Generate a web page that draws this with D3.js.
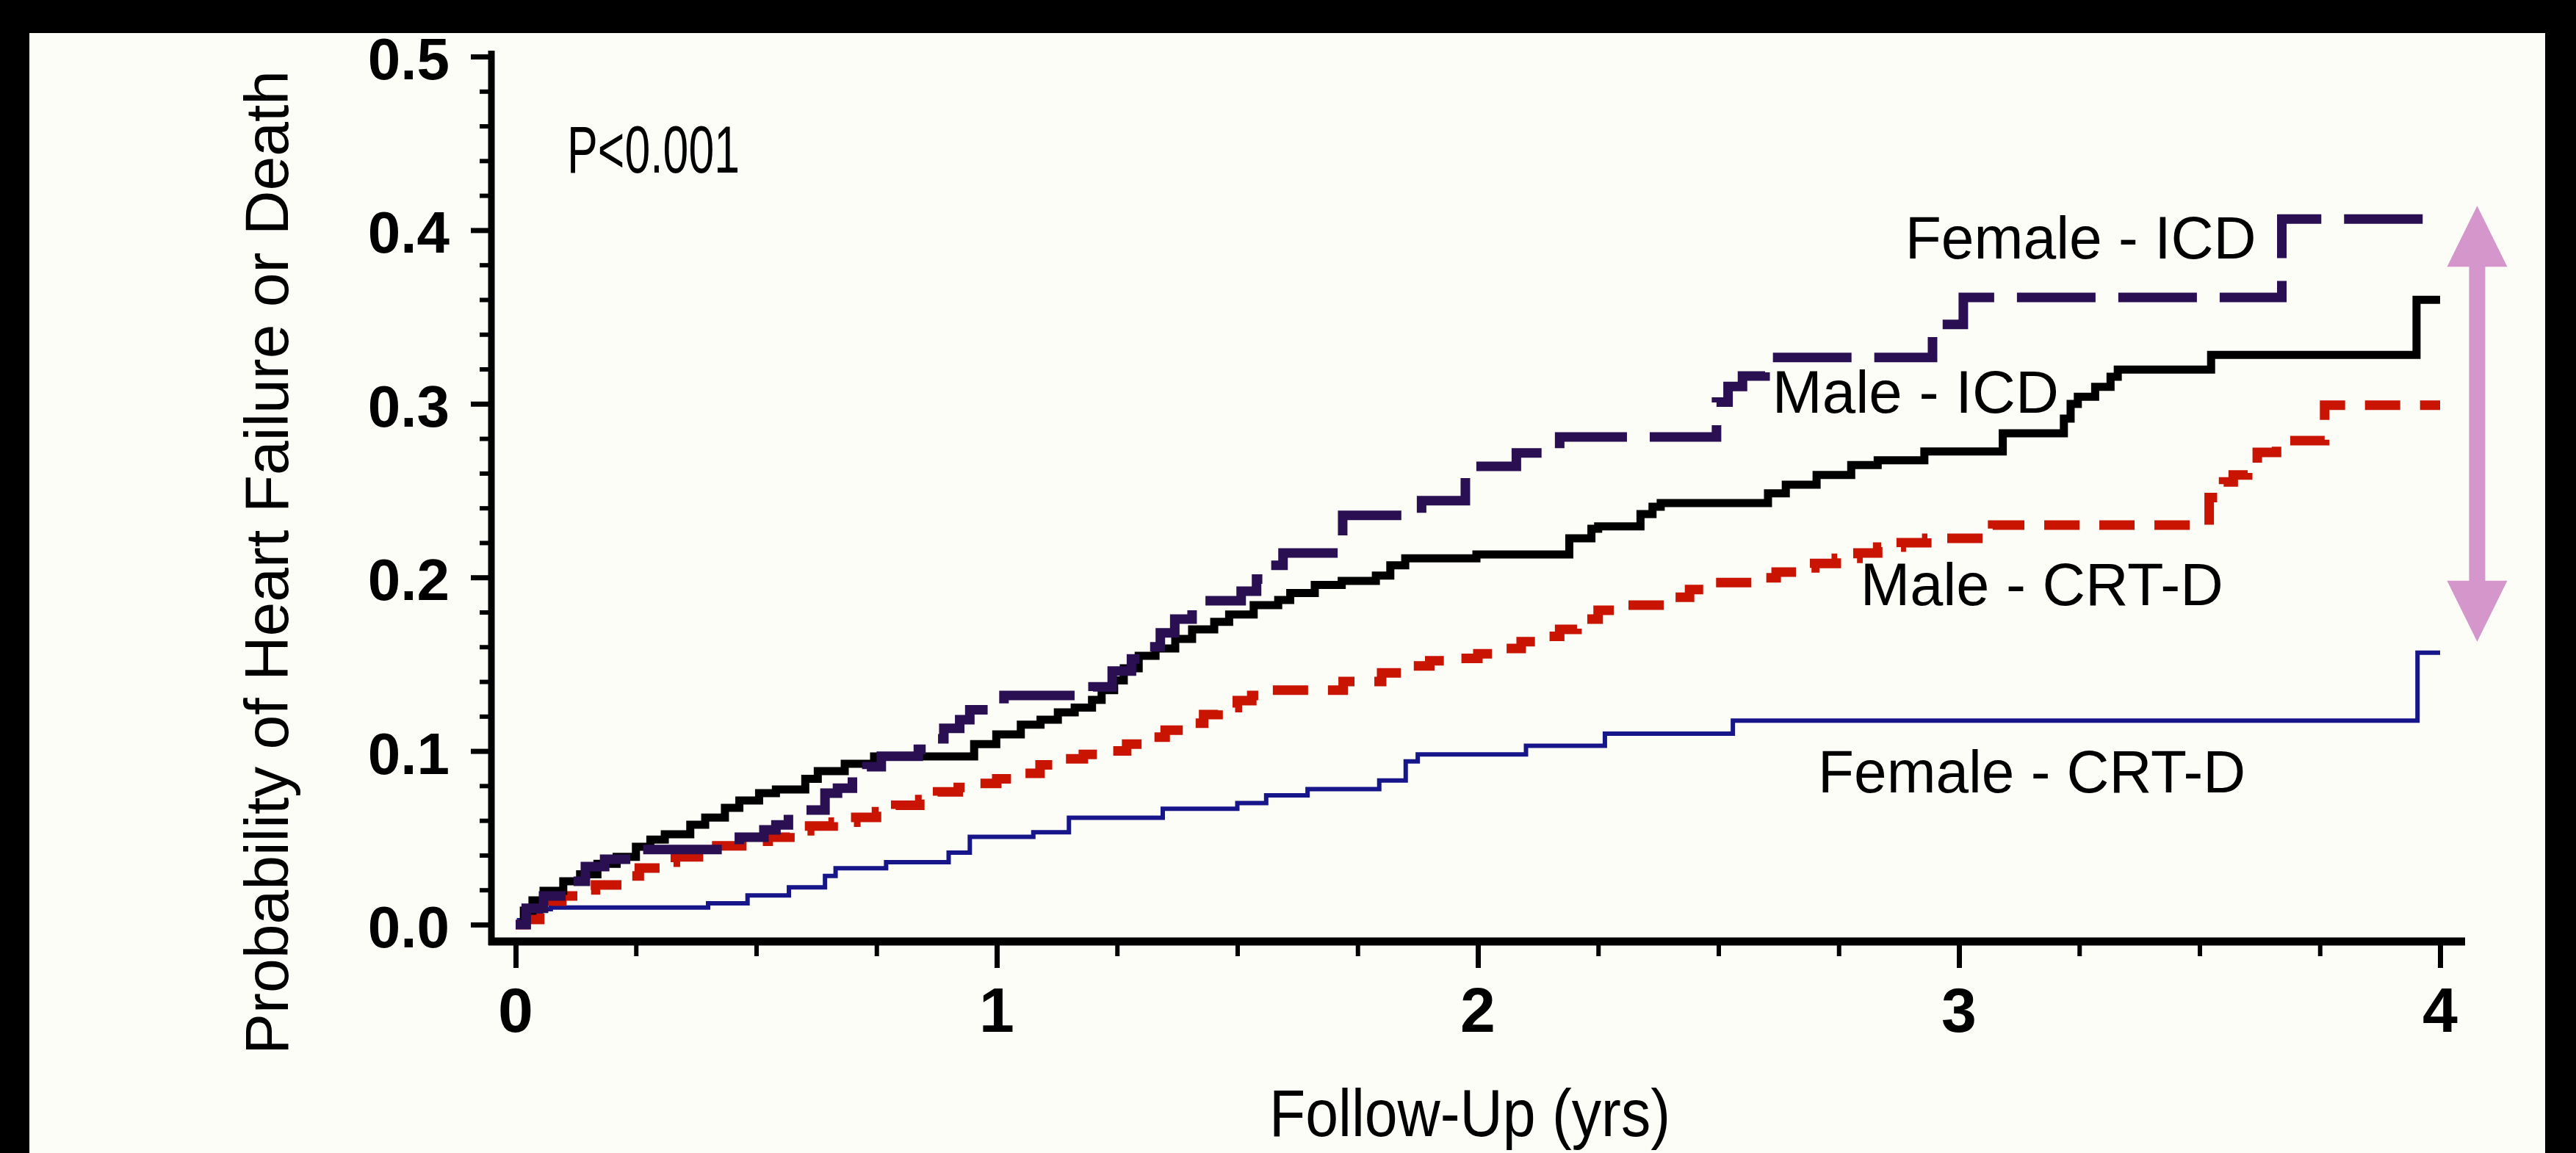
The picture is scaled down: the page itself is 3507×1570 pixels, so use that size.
<!DOCTYPE html>
<html>
<head>
<meta charset="utf-8">
<script src="https://cdn.jsdelivr.net/npm/d3@7"></script>
<style>
  html, body { margin: 0; padding: 0; background: #000; }
  svg { display: block; }
  text { font-family: "Liberation Sans", Arial, Helvetica, sans-serif; fill: #000; }
</style>
</head>
<body>
<svg id="chart" width="3507" height="1570"></svg>
<script>
// Axis ticks and labels
const yearTicks = [0, 1, 2, 3, 4];
const yearTickLabels = ["0", "1", "2", "3", "4"];
const probTicks = [0, 0.1, 0.2, 0.3, 0.4, 0.5];
const probTickLabels = ["0.0", "0.1", "0.2", "0.3", "0.4", "0.5"];

// Kaplan-Meier style cumulative event curves: [years, probability] at each step
const femaleICD = [
  [0, 0], [0.022, 0.0094], [0.058, 0.0165], [0.109, 0.025], [0.145, 0.0334], [0.185, 0.0376],
  [0.241, 0.0433], [0.465, 0.0503], [0.516, 0.0546], [0.541, 0.0574], [0.567, 0.066],
  [0.643, 0.0757], [0.669, 0.0786], [0.70, 0.0856], [0.73, 0.091], [0.76, 0.097],
  [0.837, 0.101], [0.86, 0.107], [0.89, 0.113], [0.923, 0.118], [0.944, 0.1237],
  [1.015, 0.132], [1.20, 0.137], [1.24, 0.146], [1.28, 0.153], [1.31, 0.160], [1.34, 0.168],
  [1.37, 0.176], [1.406, 0.1865], [1.508, 0.192], [1.54, 0.199], [1.57, 0.207], [1.595, 0.214],
  [1.719, 0.2357], [1.883, 0.2442], [1.974, 0.264], [2.08, 0.2717], [2.17, 0.2809],
  [2.496, 0.301], [2.52, 0.310], [2.55, 0.316], [2.597, 0.3267], [2.945, 0.3457],
  [3.009, 0.3613], [3.671, 0.4064], [4.0, 0.4064]
];
const maleICD = [
  [0, 0], [0.017, 0.008], [0.035, 0.014], [0.058, 0.0195], [0.099, 0.025], [0.134, 0.029],
  [0.17, 0.035], [0.21, 0.039], [0.25, 0.0448], [0.28, 0.049], [0.31, 0.052], [0.363, 0.0575],
  [0.394, 0.0617], [0.435, 0.0673], [0.465, 0.0715], [0.506, 0.0757], [0.541, 0.0778],
  [0.602, 0.084], [0.628, 0.0884], [0.684, 0.0926], [0.745, 0.0969], [0.953, 0.104],
  [0.999, 0.1096], [1.05, 0.1152], [1.091, 0.118], [1.127, 0.1222], [1.162, 0.125],
  [1.198, 0.1294], [1.218, 0.135], [1.244, 0.1406], [1.264, 0.1476], [1.295, 0.1548],
  [1.33, 0.159], [1.371, 0.1645], [1.406, 0.170], [1.452, 0.1744], [1.483, 0.1786],
  [1.534, 0.184], [1.585, 0.187], [1.61, 0.191], [1.661, 0.1956], [1.717, 0.198],
  [1.788, 0.201], [1.818, 0.207], [1.849, 0.211], [1.997, 0.2132], [2.19, 0.2225],
  [2.236, 0.228], [2.25, 0.2294], [2.338, 0.2365], [2.363, 0.2407], [2.38, 0.2428],
  [2.603, 0.2484], [2.64, 0.2534], [2.704, 0.259], [2.776, 0.2647], [2.831, 0.2675],
  [2.928, 0.2725], [3.091, 0.283], [3.218, 0.2915], [3.232, 0.2999], [3.247, 0.304],
  [3.283, 0.3098], [3.315, 0.3156], [3.33, 0.3197], [3.524, 0.3281], [3.951, 0.3599],
  [4.0, 0.3599]
];
const maleCRTD = [
  [0, 0], [0.02, 0.003], [0.05, 0.009], [0.075, 0.0135], [0.096, 0.0165], [0.13, 0.020],
  [0.166, 0.0228], [0.21, 0.028], [0.257, 0.0326], [0.30, 0.036], [0.332, 0.039],
  [0.38, 0.042], [0.418, 0.0454], [0.47, 0.048], [0.525, 0.0503], [0.57, 0.054],
  [0.611, 0.0568], [0.66, 0.059], [0.707, 0.0618], [0.75, 0.065], [0.79, 0.0687],
  [0.84, 0.072], [0.877, 0.0765], [0.92, 0.079], [0.959, 0.0813], [1.00, 0.084],
  [1.04, 0.0871], [1.09, 0.092], [1.127, 0.0955], [1.18, 0.098], [1.223, 0.100],
  [1.27, 0.104], [1.31, 0.108], [1.35, 0.112], [1.391, 0.116], [1.43, 0.121], [1.46, 0.125],
  [1.50, 0.129], [1.53, 0.132], [1.564, 0.135], [1.72, 0.140], [1.80, 0.145], [1.844, 0.149],
  [1.90, 0.152], [1.946, 0.1533], [2.00, 0.156], [2.043, 0.159], [2.09, 0.163], [2.129, 0.166],
  [2.17, 0.170], [2.206, 0.176], [2.25, 0.181], [2.297, 0.184], [2.399, 0.1886], [2.44, 0.193],
  [2.48, 0.197], [2.572, 0.1998], [2.62, 0.203], [2.664, 0.2055], [2.70, 0.208], [2.745, 0.211],
  [2.79, 0.214], [2.831, 0.2174], [2.88, 0.220], [2.933, 0.2225], [3.07, 0.2301], [3.52, 0.246],
  [3.55, 0.255], [3.57, 0.259], [3.60, 0.266], [3.62, 0.272], [3.66, 0.2788], [3.76, 0.2992],
  [4.0, 0.2992]
];
const femaleCRTD = [
  [0, 0], [0.007, 0.0025], [0.017, 0.0047], [0.032, 0.0068], [0.053, 0.0089], [0.073, 0.0098],
  [0.40, 0.0123], [0.482, 0.0168], [0.568, 0.0215], [0.643, 0.028], [0.665, 0.0325],
  [0.77, 0.036], [0.90, 0.0415], [0.944, 0.0505], [1.076, 0.0532], [1.15, 0.0616],
  [1.345, 0.0667], [1.50, 0.070], [1.56, 0.0744], [1.646, 0.078], [1.795, 0.083], [1.85, 0.094],
  [1.875, 0.098], [2.10, 0.103], [2.264, 0.110], [2.53, 0.1175], [3.953, 0.1566], [4.0, 0.1566]
];

// Curve labels: text, anchor time (years), baseline probability
const labelTexts = ["Female - ICD", "Male - ICD", "Male - CRT-D", "Female - CRT-D", "P<0.001"];
const labelTimes = [2.888, 2.612, 2.795, 2.707, 0.107];
const labelProbs = [0.3837, 0.2948, 0.184, 0.0761, 0.4332];
const labelWidths = [478, 390, 494, 582, 235];
const labelSizes = [82, 82, 82, 82, 90];

// Double-headed arrow marking the spread between the extreme groups
const arrowTime = 4.077;
const arrowProbs = [0.163, 0.414];

const svg = d3.select("#chart");

// Page and panel
svg.append("rect").attr("width", 3507).attr("height", 1570).attr("fill", "#000");
svg.append("rect").attr("x", 40).attr("y", 45).attr("width", 3425).attr("height", 1525)
  .attr("fill", "#fdfdf7");

const x = d3.scaleLinear().domain([0, 4]).range([702, 3322]);
const y = d3.scaleLinear().domain([0, 0.5]).range([1259, 77]);

const axisX = 669;   // vertical axis line position
const axisY = 1282;  // horizontal axis line position

// Y axis ticks (major + minor)
const yMinor = d3.range(0, 0.5001, 0.02).filter(v => Math.abs(v * 10 - Math.round(v * 10)) > 1e-6);
const gy = svg.append("g").attr("transform", `translate(${axisX},0)`);
gy.call(d3.axisLeft(y).tickValues(probTicks).tickSize(28).tickFormat(""))
  .call(g => g.select(".domain").remove())
  .call(g => g.selectAll(".tick line").attr("stroke", "#000").attr("stroke-width", 7));
const gyMinor = svg.append("g").attr("transform", `translate(${axisX},0)`);
gyMinor.call(d3.axisLeft(y).tickValues(yMinor).tickSize(16).tickFormat(""))
  .call(g => g.select(".domain").remove())
  .call(g => g.selectAll(".tick line").attr("stroke", "#000").attr("stroke-width", 6));

svg.append("g").selectAll("text").data(probTicks).join("text")
  .attr("x", 612).attr("y", d => y(d) + 31)
  .attr("text-anchor", "end").attr("font-size", 80).attr("font-weight", "bold")
  .text((d, i) => probTickLabels[i]);

// X axis ticks (major + minor)
const xMinor = d3.range(0, 4.001, 0.25).filter(v => Math.abs(v - Math.round(v)) > 1e-6);
const gx = svg.append("g").attr("transform", `translate(0,${axisY})`);
gx.call(d3.axisBottom(x).tickValues(yearTicks).tickSize(36).tickFormat(""))
  .call(g => g.select(".domain").remove())
  .call(g => g.selectAll(".tick line").attr("stroke", "#000").attr("stroke-width", 7));
const gxMinor = svg.append("g").attr("transform", `translate(0,${axisY})`);
gxMinor.call(d3.axisBottom(x).tickValues(xMinor).tickSize(20).tickFormat(""))
  .call(g => g.select(".domain").remove())
  .call(g => g.selectAll(".tick line").attr("stroke", "#000").attr("stroke-width", 6));

svg.append("g").selectAll("text").data(yearTicks).join("text")
  .attr("x", d => x(d)).attr("y", 1405)
  .attr("text-anchor", "middle").attr("font-size", 86).attr("font-weight", "bold")
  .text((d, i) => yearTickLabels[i]);

// Axis lines
svg.append("line").attr("x1", axisX).attr("x2", axisX)
  .attr("y1", y(0.5) - 8).attr("y2", axisY + 5)
  .attr("stroke", "#000").attr("stroke-width", 9);
svg.append("line").attr("x1", axisX - 4).attr("x2", x(4) + 34)
  .attr("y1", axisY).attr("y2", axisY)
  .attr("stroke", "#000").attr("stroke-width", 11);

// Axis titles
svg.append("text")
  .attr("x", 2001).attr("y", 1547).attr("text-anchor", "middle")
  .attr("font-size", 90).attr("textLength", 546).attr("lengthAdjust", "spacingAndGlyphs")
  .text("Follow-Up (yrs)");
svg.append("text")
  .attr("transform", `translate(392,766) rotate(-90)`).attr("text-anchor", "middle")
  .attr("font-size", 84)
  .text("Probability of Heart Failure or Death");

// Curves
const stepLine = d3.line().x(d => x(d[0])).y(d => y(d[1])).curve(d3.curveStepAfter);
const curves = [
  { data: femaleCRTD, color: "#16168a", width: 6, dash: null },
  { data: maleCRTD, color: "#c81400", width: 13, dash: "48,27" },
  { data: maleICD, color: "#000000", width: 11, dash: null },
  { data: femaleICD, color: "#2a0f52", width: 13, dash: "107,31" }
];
svg.append("g").selectAll("path").data(curves).join("path")
  .attr("d", d => stepLine(d.data))
  .attr("fill", "none")
  .attr("stroke", d => d.color)
  .attr("stroke-width", d => d.width)
  .attr("stroke-dasharray", d => d.dash)
  .attr("stroke-linejoin", "miter")
  .attr("stroke-linecap", "butt");

// Curve labels
svg.append("g").selectAll("text").data(labelTexts).join("text")
  .attr("x", (d, i) => x(labelTimes[i]))
  .attr("y", (d, i) => y(labelProbs[i]))
  .attr("font-size", (d, i) => labelSizes[i])
  .attr("textLength", (d, i) => labelWidths[i])
  .attr("lengthAdjust", "spacingAndGlyphs")
  .text(d => d);

// Arrow
const ax = x(arrowTime);
const yTop = y(arrowProbs[1]);
const yBot = y(arrowProbs[0]);
const headLen = 83, headHalf = 41, shaftHalf = 11;
const arrowPath = d3.path();
arrowPath.moveTo(ax, yTop);
arrowPath.lineTo(ax + headHalf, yTop + headLen);
arrowPath.lineTo(ax + shaftHalf, yTop + headLen);
arrowPath.lineTo(ax + shaftHalf, yBot - headLen);
arrowPath.lineTo(ax + headHalf, yBot - headLen);
arrowPath.lineTo(ax, yBot);
arrowPath.lineTo(ax - headHalf, yBot - headLen);
arrowPath.lineTo(ax - shaftHalf, yBot - headLen);
arrowPath.lineTo(ax - shaftHalf, yTop + headLen);
arrowPath.lineTo(ax - headHalf, yTop + headLen);
arrowPath.closePath();
svg.append("path").attr("d", arrowPath.toString()).attr("fill", "#d596cc");
</script>
</body>
</html>
